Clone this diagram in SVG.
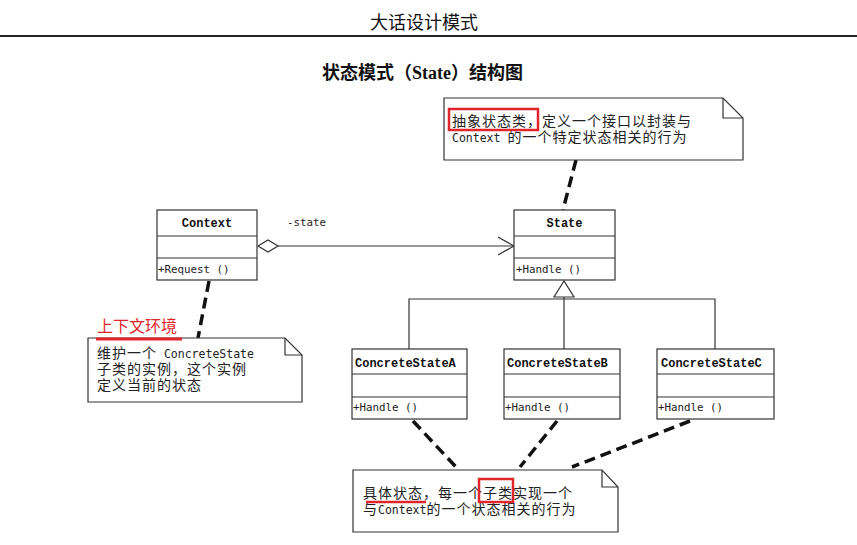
<svg xmlns="http://www.w3.org/2000/svg" width="857" height="545" viewBox="0 0 857 545">
<defs>
<style>
.box{fill:#fff;stroke:#333;stroke-width:1.2}
.ln{fill:none;stroke:#333;stroke-width:1.2}
.dash{fill:none;stroke:#111;stroke-width:3.5;stroke-dasharray:11,6}
.cn{font-family:"Liberation Mono","Noto Sans CJK SC",monospace;font-weight:bold;font-size:12px;fill:#111}
.mt{font-family:"DejaVu Sans Mono","Noto Sans CJK SC",monospace;font-size:10.8px;fill:#222}
.nt{font-family:"Noto Sans CJK SC",sans-serif;font-size:14px;letter-spacing:1px;fill:#222}
.lat{font-family:"DejaVu Sans Mono",monospace;font-size:11.5px;letter-spacing:0}
.red{fill:none;stroke:#e0262b;stroke-width:2.5}
</style>
<marker id="open" markerWidth="18" markerHeight="20" refX="16" refY="10" orient="auto" markerUnits="userSpaceOnUse">
<path d="M0,1 L16,10 L0,19" fill="none" stroke="#333" stroke-width="1.2"/>
</marker>
</defs>
<rect width="857" height="545" fill="#fff"/>
<text x="370" y="29" font-family="'Noto Sans CJK SC',sans-serif" font-size="18" fill="#111">大话设计模式</text>
<line x1="0" y1="36" x2="857" y2="36" stroke="#222" stroke-width="2"/>
<text x="322" y="79" font-family="'Noto Sans CJK SC',sans-serif" font-weight="bold" font-size="18" fill="#111">状态模式（<tspan font-family="'Liberation Serif',serif">State</tspan>）结构图</text>

<g id="connectors">
<path class="dash" d="M576,160 L563,210"/>
<path class="dash" d="M209,281 L198,338"/>
<path class="dash" d="M413,421 L456,467"/>
<path class="dash" d="M557,421 L520,467"/>
<path class="dash" d="M690,421 L572,467"/>
<path class="ln" d="M278,246 L514,246" marker-end="url(#open)"/>
<path d="M258,246 L268,240 L278,246 L268,252 Z" fill="#fff" stroke="#333" stroke-width="1.2"/>
<path class="ln" d="M564,297 L564,349 M409,349 L409,299 L715,299 L715,349"/>
<path d="M564,281 L554,297 L574,297 Z" fill="#fff" stroke="#333" stroke-width="1.2"/>
<text x="287" y="226" class="mt" font-size="11.5">-state</text>
</g>

<g id="Context">
<rect class="box" x="157" y="210" width="100" height="70"/>
<path class="ln" d="M157,236 H257 M157,258 H257"/>
<text class="cn" x="207" y="227" text-anchor="middle">Context</text>
<text class="mt" x="158" y="273">+Request ()</text>
</g>

<g id="State">
<rect class="box" x="514" y="210" width="101" height="70"/>
<path class="ln" d="M514,236 H615 M514,258 H615"/>
<text class="cn" x="564.5" y="227" text-anchor="middle">State</text>
<text class="mt" x="516" y="273">+Handle ()</text>
</g>

<g id="ConcreteStateA">
<rect class="box" x="352" y="349" width="115" height="70"/>
<path class="ln" d="M352,374 H467 M352,397 H467"/>
<text class="cn" x="355" y="367">ConcreteStateA</text>
<text class="mt" x="353" y="411">+Handle ()</text>
</g>

<g id="ConcreteStateB">
<rect class="box" x="504" y="349" width="116" height="70"/>
<path class="ln" d="M504,374 H620 M504,397 H620"/>
<text class="cn" x="507" y="367">ConcreteStateB</text>
<text class="mt" x="505" y="411">+Handle ()</text>
</g>

<g id="ConcreteStateC">
<rect class="box" x="657" y="349" width="117" height="70"/>
<path class="ln" d="M657,374 H774 M657,397 H774"/>
<text class="cn" x="661" y="367">ConcreteStateC</text>
<text class="mt" x="658" y="411">+Handle ()</text>
</g>

<g id="note-state">
<path class="box" d="M444,98 H723 L743,118 V160 H444 Z"/>
<path class="ln" d="M723,98 V118 H743"/>
<text class="nt" x="452" y="126">抽象状态类，定义一个接口以封装与</text>
<text class="nt" x="452" y="142"><tspan class="lat">Context </tspan>的一个特定状态相关的行为</text>
<rect class="red" x="449" y="109" width="89" height="21"/>
</g>

<g id="note-context">
<text x="97" y="332" font-family="'Noto Sans CJK SC',sans-serif" font-size="16" fill="#e0262b">上下文环境</text>
<path class="box" d="M88,338 H285 L302,355 V402 H88 Z"/>
<path class="ln" d="M285,338 V355 H302"/>
<line x1="96" y1="339" x2="182" y2="339" stroke="#e0262b" stroke-width="3"/>
<text class="nt" font-size="13.5" letter-spacing="1.6" x="97" y="358">维护一个<tspan class="lat"> ConcreteState</tspan></text>
<text class="nt" font-size="13.5" letter-spacing="1.6" x="97" y="374">子类的实例，这个实例</text>
<text class="nt" font-size="13.5" letter-spacing="1.6" x="97" y="390">定义当前的状态</text>
</g>

<g id="note-concrete">
<path class="box" d="M353,470 H602 L618,487 V532 H353 Z"/>
<path class="ln" d="M602,470 V487 H618"/>
<text class="nt" x="363" y="498">具体状态，每一个子类实现一个</text>
<text class="nt" x="363" y="514">与<tspan class="lat">Context</tspan>的一个状态相关的行为</text>
<line x1="366" y1="502" x2="426" y2="502" stroke="#e0262b" stroke-width="2.5"/>
<rect class="red" x="479" y="479" width="34" height="23"/>
</g>
</svg>
